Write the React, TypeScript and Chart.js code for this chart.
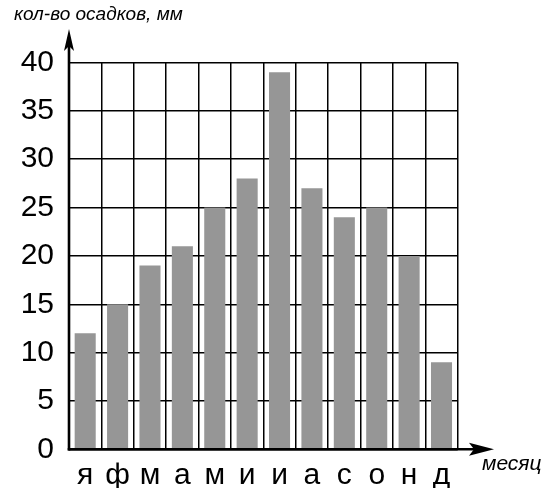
import React, { useEffect, useRef } from "react";
import { Chart, registerables } from "chart.js";

Chart.register(...registerables);

const months: string[] = ["я", "ф", "м", "а", "м", "и", "и", "а", "с", "о", "н", "д"];
const precipitation: number[] = [12, 15, 19, 21, 25, 28, 39, 27, 24, 25, 20, 9];
const yTitle = "кол-во осадков, мм";
const xTitle = "месяц";

const FONT = '"Liberation Sans", Arial, sans-serif';

const arrowsPlugin = {
  id: "arrows",
  afterDraw(chart: any) {
    const { ctx, chartArea } = chart;
    const { left, bottom } = chartArea;
    ctx.save();
    ctx.strokeStyle = "#000";
    ctx.fillStyle = "#000";
    ctx.lineWidth = 2.6;
    // y axis
    ctx.beginPath();
    ctx.moveTo(left, bottom + 1.3);
    ctx.lineTo(left, 40);
    ctx.stroke();
    // x axis
    ctx.beginPath();
    ctx.moveTo(left - 1.3, bottom);
    ctx.lineTo(480, bottom);
    ctx.stroke();
    // y arrowhead
    ctx.beginPath();
    ctx.moveTo(left, 29);
    ctx.lineTo(left + 5, 51);
    ctx.lineTo(left, 46);
    ctx.lineTo(left - 5, 51);
    ctx.closePath();
    ctx.fill();
    // x arrowhead
    ctx.beginPath();
    ctx.moveTo(494, bottom);
    ctx.lineTo(469, bottom - 6.5);
    ctx.lineTo(474, bottom);
    ctx.lineTo(469, bottom + 6.5);
    ctx.closePath();
    ctx.fill();
    // titles
    ctx.font = `italic 19px ${FONT}`;
    ctx.textAlign = "left";
    ctx.textBaseline = "alphabetic";
    ctx.fillText(yTitle, 14, 20);
    ctx.font = `italic 21px ${FONT}`;
    ctx.fillText(xTitle, 482, 470);
    ctx.restore();
  },
};

export default function App() {
  const ref = useRef<HTMLCanvasElement | null>(null);

  useEffect(() => {
    if (!ref.current) return;
    const chart = new Chart(ref.current, {
      type: "bar",
      data: {
        labels: months,
        datasets: [
          {
            data: precipitation,
            backgroundColor: "#969696",
            borderWidth: 0,
            categoryPercentage: 1,
            barPercentage: 0.65,
          },
        ],
      },
      options: {
        animation: false,
        responsive: false,
        devicePixelRatio: 1,
        layout: { padding: { top: 62.5, right: 102.3, left: 0, bottom: 0 } },
        plugins: { legend: { display: false }, tooltip: { enabled: false } },
        scales: {
          x: {
            grid: { color: "#000", lineWidth: 1.5, drawTicks: false, offset: true },
            border: { display: false },
            ticks: {
              color: "#000",
              font: { family: FONT, size: 30 },
              padding: 8,
              maxRotation: 0,
              autoSkip: false,
            },
            afterFit: (s: any) => {
              s.height = 488 - 449.3;
            },
          },
          y: {
            min: 0,
            max: 40,
            grid: { color: "#000", lineWidth: 1.5, drawTicks: false },
            border: { display: false },
            ticks: {
              stepSize: 5,
              color: "#000",
              font: { family: FONT, size: 30 },
              padding: 15,
            },
            afterFit: (s: any) => {
              s.width = 69;
            },
          },
        },
      },
      plugins: [arrowsPlugin],
    });
    return () => chart.destroy();
  }, []);

  return (
    <div style={{ position: "absolute", left: 0, top: 0, width: 560, height: 488, background: "#fff" }}>
      <canvas ref={ref} width={560} height={488} style={{ width: 560, height: 488 }} />
    </div>
  );
}
